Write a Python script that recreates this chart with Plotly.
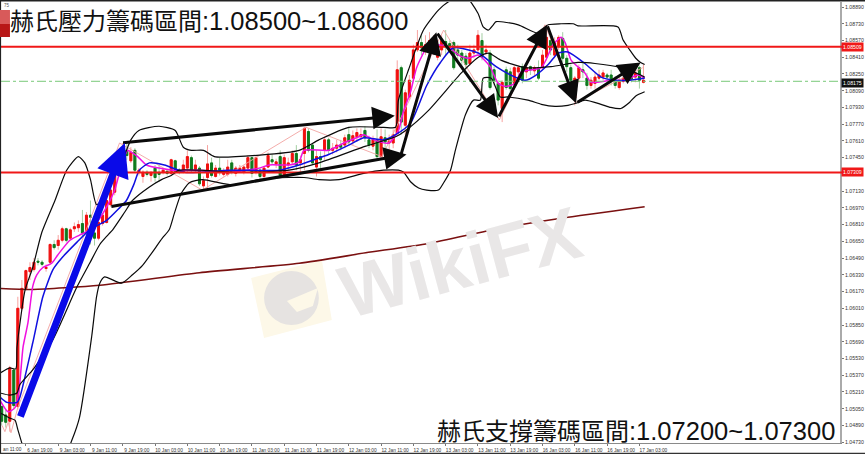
import plotly.graph_objects as go

# ---------- candles (bar index = hourly bars on a gapless axis) ----------
bar_start = 2
opens = [1.0507,1.0499,1.0493,1.0542,1.0507,1.0601,1.0620,1.0636,1.0638,1.0646,1.0645,1.0639,1.0645,1.0662,1.0661,1.0666,1.0677,1.0668,1.0677,1.0678,1.0682,1.0674,1.0690,1.0673,1.0668,1.0682,1.0683,1.0700,1.0712,1.0728,1.0741,1.0752,1.0742,1.0752,1.0731,1.0727,1.0731,1.0728,1.0735,1.0731,1.0731,1.0732,1.0730,1.0742,1.0733,1.0731,1.0735,1.0745,1.0734,1.0735,1.0718,1.0726,1.0740,1.0727,1.0735,1.0729,1.0729,1.0740,1.0730,1.0733,1.0731,1.0735,1.0745,1.0731,1.0733,1.0727,1.0736,1.0743,1.0739,1.0746,1.0728,1.0738,1.0741,1.0749,1.0740,1.0749,1.0770,1.0757,1.0736,1.0746,1.0752,1.0762,1.0752,1.0754,1.0757,1.0757,1.0767,1.0761,1.0765,1.0765,1.0771,1.0762,1.0756,1.0762,1.0746,1.0764,1.0759,1.0759,1.0768,1.0831,1.0776,1.0803,1.0821,1.0848,1.0855,1.0851,1.0851,1.0848,1.0841,1.0848,1.0856,1.0854,1.0855,1.0848,1.0845,1.0842,1.0835,1.0845,1.0848,1.0857,1.0846,1.0845,1.0829,1.0816,1.0792,1.0829,1.0827,1.0816,1.0827,1.0832,1.0827,1.0832,1.0828,1.0831,1.0831,1.0841,1.0857,1.0843,1.0851,1.0859,1.0840,1.0831,1.0802,1.0821,1.0829,1.0821,1.0814,1.0816,1.0821,1.0822,1.0824,1.0824,1.0819,1.0812,1.0818,1.0819,1.0823,1.0822,1.0831,1.0817]
highs = [1.0508,1.0504,1.0546,1.0544,1.0612,1.0628,1.0638,1.0645,1.0649,1.0649,1.0647,1.0643,1.0663,1.0666,1.0671,1.0679,1.0678,1.0678,1.0683,1.0685,1.0695,1.0693,1.0704,1.0678,1.0687,1.0692,1.0706,1.0716,1.0733,1.0745,1.0759,1.0759,1.0755,1.0754,1.0735,1.0733,1.0733,1.0731,1.0738,1.0738,1.0735,1.0734,1.0744,1.0743,1.0735,1.0743,1.0752,1.0747,1.0743,1.0737,1.0727,1.0757,1.0745,1.0738,1.0745,1.0735,1.0743,1.0743,1.0737,1.0738,1.0738,1.0747,1.0746,1.0747,1.0735,1.0737,1.0750,1.0748,1.0744,1.0752,1.0748,1.0745,1.0752,1.0757,1.0747,1.0774,1.0773,1.0759,1.0752,1.0751,1.0765,1.0764,1.0759,1.0762,1.0762,1.0767,1.0774,1.0771,1.0773,1.0773,1.0775,1.0766,1.0766,1.0772,1.0773,1.0772,1.0767,1.0772,1.0838,1.0833,1.0810,1.0824,1.0853,1.0867,1.0862,1.0862,1.0865,1.0862,1.0856,1.0862,1.0867,1.0857,1.0857,1.0853,1.0848,1.0845,1.0853,1.0853,1.0867,1.0864,1.0853,1.0848,1.0832,1.0819,1.0819,1.0832,1.0831,1.0833,1.0833,1.0835,1.0836,1.0833,1.0833,1.0838,1.0848,1.0872,1.0862,1.0860,1.0862,1.0865,1.0843,1.0834,1.0823,1.0834,1.0836,1.0826,1.0822,1.0827,1.0829,1.0829,1.0826,1.0829,1.0823,1.0822,1.0824,1.0829,1.0827,1.0831,1.0833,1.0834]
lows = [1.0489,1.0487,1.0483,1.0504,1.0504,1.0599,1.0618,1.0628,1.0636,1.0642,1.0641,1.0636,1.0643,1.0657,1.0657,1.0664,1.0664,1.0666,1.0674,1.0674,1.0670,1.0668,1.0662,1.0661,1.0666,1.0680,1.0682,1.0698,1.0709,1.0726,1.0738,1.0743,1.0740,1.0731,1.0728,1.0721,1.0727,1.0722,1.0722,1.0722,1.0729,1.0728,1.0728,1.0730,1.0729,1.0730,1.0731,1.0731,1.0731,1.0718,1.0715,1.0714,1.0726,1.0726,1.0728,1.0727,1.0727,1.0729,1.0727,1.0731,1.0729,1.0733,1.0726,1.0729,1.0724,1.0724,1.0735,1.0738,1.0735,1.0726,1.0727,1.0733,1.0738,1.0733,1.0729,1.0733,1.0750,1.0738,1.0727,1.0735,1.0743,1.0748,1.0748,1.0750,1.0752,1.0754,1.0757,1.0757,1.0760,1.0762,1.0760,1.0754,1.0752,1.0743,1.0743,1.0752,1.0752,1.0754,1.0767,1.0767,1.0767,1.0800,1.0819,1.0846,1.0843,1.0843,1.0848,1.0843,1.0838,1.0843,1.0843,1.0848,1.0829,1.0838,1.0829,1.0829,1.0833,1.0840,1.0843,1.0838,1.0843,1.0810,1.0814,1.0795,1.0779,1.0810,1.0808,1.0814,1.0824,1.0816,1.0821,1.0824,1.0824,1.0819,1.0829,1.0838,1.0843,1.0840,1.0848,1.0836,1.0827,1.0814,1.0795,1.0817,1.0821,1.0810,1.0811,1.0811,1.0819,1.0819,1.0817,1.0814,1.0811,1.0810,1.0816,1.0817,1.0817,1.0817,1.0811,1.0816]
closes = [1.0493,1.0492,1.0544,1.0508,1.0601,1.0620,1.0637,1.0640,1.0645,1.0645,1.0643,1.0640,1.0662,1.0659,1.0666,1.0677,1.0666,1.0676,1.0679,1.0681,1.0673,1.0690,1.0688,1.0668,1.0683,1.0690,1.0704,1.0714,1.0731,1.0743,1.0755,1.0747,1.0750,1.0733,1.0733,1.0731,1.0729,1.0731,1.0726,1.0729,1.0733,1.0730,1.0743,1.0731,1.0731,1.0738,1.0746,1.0733,1.0738,1.0720,1.0723,1.0739,1.0728,1.0735,1.0733,1.0731,1.0736,1.0731,1.0735,1.0735,1.0736,1.0745,1.0730,1.0745,1.0727,1.0735,1.0747,1.0741,1.0741,1.0728,1.0745,1.0740,1.0749,1.0738,1.0743,1.0773,1.0752,1.0740,1.0746,1.0743,1.0762,1.0752,1.0754,1.0757,1.0755,1.0764,1.0760,1.0766,1.0769,1.0767,1.0764,1.0757,1.0762,1.0746,1.0765,1.0760,1.0761,1.0767,1.0829,1.0779,1.0807,1.0819,1.0848,1.0855,1.0850,1.0853,1.0857,1.0855,1.0850,1.0857,1.0852,1.0851,1.0831,1.0843,1.0838,1.0834,1.0845,1.0848,1.0862,1.0841,1.0848,1.0812,1.0819,1.0800,1.0817,1.0812,1.0811,1.0831,1.0831,1.0819,1.0831,1.0829,1.0831,1.0821,1.0843,1.0860,1.0848,1.0855,1.0860,1.0840,1.0832,1.0819,1.0821,1.0831,1.0827,1.0814,1.0819,1.0822,1.0824,1.0826,1.0822,1.0819,1.0814,1.0819,1.0821,1.0824,1.0820,1.0826,1.0819,1.0819]

# ---------- indicator lines ----------
bb_upper_x = [1.6,4,5.5,5.8,7.8,9.7,11.9,15.2,18.1,21,22.6,24,25.5,27.5,32.5,34,36,41,45,47,49,52,54.7,66,75.7,80.6,88,96.6,99.6,100.3,102.8,106.5,110.2,112.7,116.7,120,121.3,122.6,123.8,124.5,130,134.9,137.4,140.6,143.6,144.8,154.7,155.9,157.6,159.1,160.3,161.3]
bb_upper_y = [1.0539,1.0544,1.0543,1.0564,1.06185,1.0640,1.0673,1.0704,1.0733,1.0746,1.0740,1.0724,1.0700,1.0709,1.0748,1.0762,1.0771,1.0775,1.0771,1.0755,1.0752,1.0752,1.0746,1.07475,1.0752,1.0762,1.0774,1.0774,1.0774,1.0800,1.0829,1.0867,1.0886,1.0894,1.0900,1.0883,1.0870,1.0867,1.0872,1.0875,1.0872,1.0864,1.0872,1.0873,1.0873,1.0871,1.0870,1.0858,1.0848,1.0840,1.0836,1.0834]
bb_middle_x = [1.6,4,5.8,6.5,9.7,14.7,20.6,23.8,26.3,28.3,29.5,32.5,34.4,38.6,41.6,44,46,51,60.8,73.2,80.6,92.2,99.6,102.1,107.7,115.9,120.1,122.6,125.8,131.7,138.1,144.8,149,155.4,160.3,161.3]
bb_middle_y = [1.0520,1.0518,1.0520,1.0528,1.0542,1.0571,1.0621,1.0644,1.0662,1.0671,1.0676,1.0693,1.0704,1.0717,1.0724,1.0728,1.0733,1.0733,1.0731,1.0733,1.0740,1.0756,1.0765,1.0771,1.0790,1.0826,1.0841,1.0845,1.0838,1.0831,1.0832,1.0836,1.0835,1.0831,1.0824,1.0822]
bb_lower_x = [1.6,4,5.3,6,7,9,16.4,19.4,21.3,24.3,25.5,26.3,27.5,31.7,34.4,36.9,41.8,43.5,44.8,46.5,48.5,51.7,59.1,65.8,73.2,76.9,80.6,85.5,91.7,96.6,100.3,101.6,103.3,105.3,107.3,110.2,111.5,113.2,114.4,116.9,118.9,120.6,121.3,123.3,125.5,127.5,132.4,135.7,139.1,142.3,144.3,146.5,150.5,152.9,155.4,157.6,159.1,161.3]
bb_lower_y = [1.0501,1.0496,1.0494,1.0485,1.0472,1.0450,1.0450,1.0475,1.0497,1.0574,1.0612,1.0625,1.0631,1.0625,1.0633,1.0642,1.0668,1.0676,1.0692,1.0711,1.0721,1.0724,1.0719,1.0724,1.0726,1.0726,1.0724,1.0724,1.0730,1.0733,1.0733,1.0731,1.0722,1.0716,1.0714,1.0714,1.0721,1.0733,1.0752,1.0786,1.0800,1.0800,1.0821,1.0821,1.0803,1.0803,1.0800,1.0796,1.0794,1.0795,1.0797,1.0800,1.0796,1.0793,1.0792,1.0798,1.0804,1.0808]
pink_x = [1.6,3.6,5.3,6.3,7.3,8.5,9.7,10.7,12.2,14.4,15.9,18.9,21.3,23.8,26.3,28.3,30,31.7,33.2,34.2,35.7,37.9,44.3,51,58.4,65.8,68.3,73.2,75.7,76.9,83,86.8,90.5,91.7,94.2,97.9,100.3,101.6,103.3,104.8,107.3,109,112.7,115.2,117.6,120.1,123,125,126.8,129.2,130.7,135.7,138.6,140.6,141.6,143.1,146.5,148,152.9,156.4,159.6,161.3]
pink_y = [1.0513,1.0502,1.0506,1.0523,1.0564,1.0587,1.0622,1.0633,1.0640,1.0644,1.0652,1.0666,1.0671,1.0676,1.0687,1.0700,1.0714,1.0738,1.0752,1.0750,1.0746,1.0738,1.0733,1.0733,1.0731,1.0735,1.0738,1.0738,1.0741,1.0752,1.0752,1.0759,1.0765,1.0767,1.0762,1.0759,1.0771,1.0790,1.0808,1.0831,1.0850,1.0853,1.0851,1.0843,1.0840,1.0843,1.0832,1.0816,1.0813,1.0816,1.0827,1.0831,1.0853,1.0860,1.0855,1.0838,1.0826,1.0817,1.0819,1.0819,1.0824,1.0821]
blue_x = [1.6,3.3,5.8,6.5,9.7,12.2,14.7,17.1,20.6,23.8,28,31.2,32.9,34.7,36.1,38.6,42.3,47.3,51,58.4,70.7,75.7,79.4,83,88,91.7,96.6,99.6,103.3,107.3,110.7,113.9,120.1,124.5,129.2,131.7,134.4,137.4,139.9,142.3,146.5,150.5,153.9,157.1,161.3]
blue_y = [1.0516,1.0511,1.0511,1.0516,1.0568,1.0612,1.0638,1.0650,1.0664,1.0676,1.0685,1.0697,1.0704,1.0719,1.0733,1.0740,1.0738,1.0731,1.0731,1.0733,1.0733,1.0738,1.0743,1.0748,1.0757,1.0764,1.0762,1.0767,1.0778,1.0814,1.0836,1.0850,1.0845,1.0832,1.0822,1.0819,1.0824,1.0834,1.0845,1.0846,1.0835,1.0822,1.0819,1.0819,1.0821]
zigzag_x = [2.1,2.8,3.6,4.3,6,31.2,51.7,77.4,96.2,111.5,125.3,136.6,144.3,160.8]
zigzag_y = [1.0489,1.0483,1.0492,1.0482,1.0506,1.0759,1.0714,1.0774,1.0746,1.0867,1.0781,1.0872,1.0798,1.0831]
ma_long_x = [1.6,9.7,26.3,51,75.7,92.2,107.7,125,140.6,161.3]
ma_long_y = [1.0620,1.0619,1.0623,1.0635,1.0644,1.0654,1.0663,1.0677,1.0687,1.0698]

# ---------- hand-drawn arrows (from -> to, in bars / price) ----------
black_arrow_x0 = [31.7,28.8,100.8,109.7,125,137.1,144.3]
black_arrow_y0 = [1.0759,1.0698,1.0746,1.0865,1.0783,1.0872,1.0797]
black_arrow_x1 = [99.4,102.3,109.7,125,137.1,144.3,160.3]
black_arrow_y1 = [1.0785,1.0748,1.0865,1.0783,1.0872,1.0797,1.0836]
blue_arrow_x = [6.5,32.5]
blue_arrow_y = [1.0496,1.0759]

# ---------- horizontal levels ----------
resistance_level = 1.08509
support_level = 1.07309
bid_level = 1.0818
bid_tag = "1.08175"
resistance_tag = "1.08509"
support_tag = "1.07309"

# ---------- axes / text ----------
y_ticks = [1.0889,1.0873,1.0857,1.0841,1.0825,1.0809,1.0793,1.0777,1.0761,1.0745,1.0729,1.0713,1.0697,1.0681,1.0665,1.0649,1.0633,1.0617,1.0601,1.0585,1.0569,1.0553,1.0537,1.0521,1.0505,1.0489,1.0473]
hidden_y_tick = 1.0729  # sits behind the red support tag in the reference
x_tick_bars = [8,16,24,32,40,48,56,64,72,80,88,96,104,112,120,128,136,144,152,160]
x_tick_labels = ["6 Jan 19:00","9 Jan 03:00","9 Jan 11:00","9 Jan 19:00","10 Jan 03:00","10 Jan 11:00","10 Jan 19:00","11 Jan 03:00","11 Jan 11:00","11 Jan 19:00","12 Jan 03:00","12 Jan 11:00","12 Jan 19:00","13 Jan 03:00","13 Jan 11:00","13 Jan 19:00","16 Jan 03:00","16 Jan 11:00","16 Jan 19:00","17 Jan 03:00"]
title_top_cjk = "赫氏壓力籌碼區間"
title_top_num = ":1.08500~1.08600"
title_bottom_cjk = "赫氏支撐籌碼區間"
title_bottom_num = ":1.07200~1.07300"
watermark = "WikiFX"

W, H = 865, 454
L, R, T, B = 1, 843, 2, 443
cjk = '"Noto Sans CJK TC"'
sans = '"Liberation Sans", Arial, sans-serif'
px = lambda x: (x - L) / (R - L)
py = lambda y: (B - y) / (B - T)
num_span = lambda s: f'<span style="font-family:\'Liberation Sans\';font-size:25.5px">{s}</span>'

bars = list(range(bar_start, bar_start + len(opens)))
body_hi = [max(a, b) for a, b in zip(opens, closes)]
body_lo = [min(a, b) for a, b in zip(opens, closes)]

fig = go.Figure()
line = lambda x, y, c, w, s="spline": go.Scatter(x=x, y=y, mode="lines", hoverinfo="skip",
        line=dict(color=c, width=w, shape=s, **({"smoothing": 0.6} if s == "spline" else {})))

fig.add_trace(line(zigzag_x, zigzag_y, "#f2a3a0", 0.9, "linear"))
fig.add_trace(go.Candlestick(x=bars, open=opens, high=highs, low=lows, close=closes,
    increasing=dict(line=dict(color="#f7a3a0", width=1), fillcolor="#f7a3a0"),
    decreasing=dict(line=dict(color="#a3cfa3", width=1), fillcolor="#a3cfa3"), whiskerwidth=0))
fig.add_trace(go.Candlestick(x=bars, open=opens, high=body_hi, low=body_lo, close=closes,
    increasing=dict(line=dict(color="#f01010", width=1), fillcolor="#f01010"),
    decreasing=dict(line=dict(color="#0f7a1f", width=1), fillcolor="#0f7a1f"), whiskerwidth=0))
fig.add_trace(line(ma_long_x, ma_long_y, "#7a1010", 1.6))
fig.add_trace(line(pink_x, pink_y, "#f010e0", 1.5))
fig.add_trace(line(blue_x, blue_y, "#1010e0", 1.5))
fig.add_trace(line(bb_upper_x, bb_upper_y, "#0a0a0a", 1.2))
fig.add_trace(line(bb_middle_x, bb_middle_y, "#0a0a0a", 1.2))
fig.add_trace(line(bb_lower_x, bb_lower_y, "#0a0a0a", 1.2))

shapes = [
    # watermark logo
    dict(type="path", xref="paper", yref="paper", layer="below", line=dict(width=0), fillcolor="#fdf8e8",
         path=f"M{px(252)},{py(278)} L{px(323)},{py(260)} L{px(333)},{py(320)} L{px(265)},{py(338)} Z"),
    dict(type="circle", xref="paper", yref="paper", layer="below", line=dict(width=0), fillcolor="#e6e3e1",
         x0=px(265), x1=px(320), y0=py(325), y1=py(271)),
    dict(type="path", xref="paper", yref="paper", layer="below", line=dict(width=0), fillcolor="#fdf8e8",
         path=f"M{px(288)},{py(301)} L{px(300)},{py(296)} L{px(319)},{py(288)} L{px(314)},{py(306)} L{px(298)},{py(312)} Z"),
    # price levels
    dict(type="line", xref="paper", x0=0, x1=1, y0=bid_level, y1=bid_level, line=dict(color="#78c878", width=1, dash="dashdot")),
    dict(type="line", xref="paper", x0=0, x1=1.026, y0=resistance_level, y1=resistance_level, line=dict(color="#f01818", width=2)),
    dict(type="line", xref="paper", x0=0, x1=1.026, y0=support_level, y1=support_level, line=dict(color="#f01818", width=2)),
    # frame
    dict(type="line", xref="paper", yref="paper", x0=-0.01, x1=1.03, y0=py(0.7), y1=py(0.7), line=dict(color="#222222", width=1.5)),
    dict(type="line", xref="paper", yref="paper", x0=-0.0006, x1=-0.0006, y0=py(0), y1=py(454), line=dict(color="#222222", width=1.2)),
    dict(type="line", xref="paper", yref="paper", x0=-0.01, x1=1.03, y0=py(453.4), y1=py(453.4), line=dict(color="#333333", width=1.2)),
    # small red corner box
    dict(type="rect", xref="paper", yref="paper", x0=px(0), x1=px(10), y0=py(37), y1=py(24), line=dict(width=0), fillcolor="#b81818"),
    dict(type="rect", xref="paper", yref="paper", x0=px(0), x1=px(10), y0=py(24), y1=py(10), line=dict(width=0), fillcolor="#d85a5a"),
]

ann = []
def arrow(x0, y0, x1, y1, color, width, size):
    ann.append(dict(x=x1, y=y1, ax=x0, ay=y0, xref="x", yref="y", axref="x", ayref="y", text="", showarrow=True,
                    arrowhead=2, arrowsize=size, arrowwidth=width, arrowcolor=color, standoff=0, startstandoff=0))
for a, b, c, d in zip(black_arrow_x0, black_arrow_y0, black_arrow_x1, black_arrow_y1):
    arrow(a, b, c, d, "#0a0a0a", 3, 1.5)
arrow(blue_arrow_x[0], blue_arrow_y[0], blue_arrow_x[1], blue_arrow_y[1], "#0a0ae8", 7, 0.95)

ann += [
    dict(xref="paper", yref="paper", x=px(8), y=py(19.5), xanchor="left", yanchor="middle",
         text=title_top_cjk + num_span(title_top_num), showarrow=False,
         font=dict(family=cjk, size=24, color="#111111")),
    dict(xref="paper", yref="paper", x=px(437), y=py(429), xanchor="left", yanchor="middle",
         text=title_bottom_cjk + num_span(title_bottom_num), showarrow=False,
         font=dict(family=cjk, size=24, color="#111111")),
    dict(xref="paper", yref="paper", x=px(462), y=py(262), text=watermark, textangle=-15, showarrow=False,
         font=dict(family='"Liberation Sans"', size=74, color="#e9e7e7", weight="bold")),
    dict(xref="paper", yref="paper", x=px(1), y=py(449), xanchor="left", yanchor="middle", text="an 11:00", showarrow=False,
         font=dict(family=sans, size=4.8, color="#333333")),
    dict(xref="paper", yref="paper", x=px(2), y=py(5), xanchor="left", yanchor="middle", text="75", showarrow=False,
         font=dict(family=sans, size=4.5, color="#555555")),
]
for level, tag, bg in [(resistance_level, resistance_tag, "#f01818"), (support_level, support_tag, "#f01818"), (bid_level - 0.00012, bid_tag, "#111111")]:
    ann.append(dict(xref="paper", yref="y", x=1.0015, y=level, xanchor="left", yanchor="middle", text=tag, showarrow=False,
                    bgcolor=bg, borderpad=1, font=dict(family=sans, size=5.2, color="#ffffff")))

fig.update_layout(
    width=W, height=H, margin=dict(l=L, r=W - R, t=T, b=H - B), autosize=False,
    paper_bgcolor="#ffffff", plot_bgcolor="#ffffff", showlegend=False, hovermode=False,
    shapes=shapes, annotations=ann,
    xaxis=dict(range=[1.83, 209.7], rangeslider=dict(visible=False), showgrid=False, zeroline=False,
               tickmode="array", tickvals=x_tick_bars, ticktext=x_tick_labels, ticks="outside", ticklen=2, tickwidth=1,
               tickcolor="#777777", ticklabelshift=14, showline=True, linecolor="#8a8a8a", linewidth=1,
               tickfont=dict(family=sans, size=4.8, color="#333333"), tickangle=0),
    yaxis=dict(range=[1.04722, 1.08938], side="right", showgrid=False, zeroline=False, tickmode="array",
               tickvals=y_ticks, ticktext=["" if v == hidden_y_tick else f"{v:.5f}" for v in y_ticks],
               ticks="outside", ticklen=2, tickwidth=1,
               tickcolor="#777777", showline=True, linecolor="#aaaaaa", linewidth=2,
               tickfont=dict(family=sans, size=5.2, color="#333333")),
)
fig.write_html("out.html", post_script="document.body.style.margin='0';", config={"displayModeBar": False})
